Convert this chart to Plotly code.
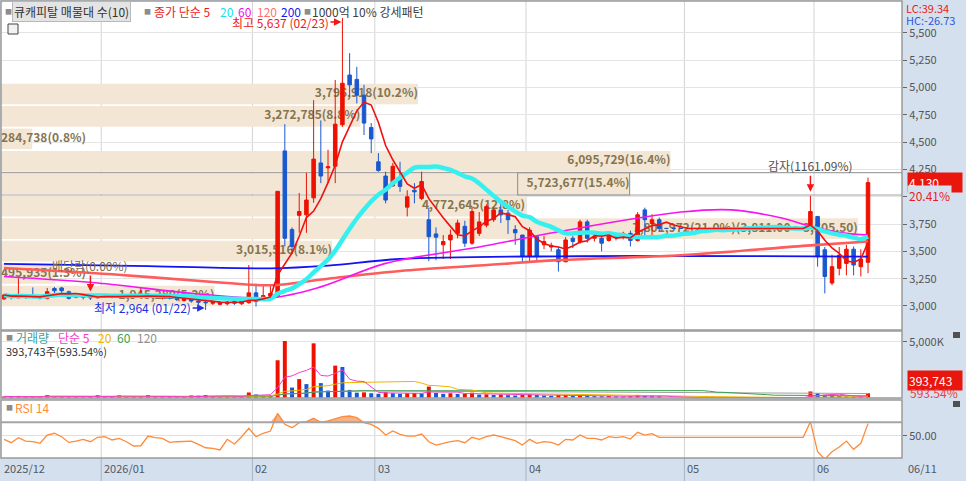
import pandas as pd
import plotly.graph_objects as go

# Trading calendar (KRX holidays removed).
FIRST_DAY = "2025-12-10"
LAST_DAY = "2026-06-11"
HOLIDAYS = ["2025-12-25", "2025-12-31", "2026-01-01", "2026-02-16", "2026-02-17",
            "2026-02-18", "2026-03-02", "2026-05-01", "2026-05-05", "2026-05-25",
            "2026-06-03"]

# Daily candles. 04/28 ~ 05/28 trading halt (flat, no volume).
OPEN = [
    3065, 3090, 3075, 3090, 3095, 3090, 3070, 3160, 3165, 3130, 3080, 3085, 3080, 3075,
    3085, 3095, 3080, 3090, 3080, 3085, 3090, 3095, 3075, 3085, 3070, 3050, 3060, 3045,
    3035, 3025, 3015, 3020, 3040, 3020, 3030,
    3120, 3080, 3090, 3090, 4420, 3700, 3830, 3835, 3990, 4310, 4265, 4280, 4660, 5115,
    5075, 4930, 4635,
    4320, 4190, 4100, 4170, 3905, 4060, 3985, 3790, 3660, 3560, 3605, 3665, 3730, 3575,
    3665, 3740, 3790, 3880, 3850, 3700, 3650,
    3455, 3635, 3560, 3540, 3515, 3405, 3620, 3590, 3770, 3620, 3620, 3600, 3650, 3630,
    3665, 3600, 3880, 3755, 3790,
    3710, 3710, 3710, 3710, 3710, 3710, 3710, 3710, 3710, 3710,
    3710, 3710, 3710, 3710, 3710, 3710, 3710, 3710, 3710, 3710,
    3725, 3820, 3515, 3210, 3345, 3390, 3520, 3360, 3400,
]
HIGH = [
    3110, 3110, 3255, 3110, 3170, 3100, 3165, 3175, 3175, 3140, 3110, 3100, 3095, 3110,
    3110, 3105, 3105, 3100, 3100, 3170, 3110, 3105, 3100, 3095, 3080, 3075, 3070, 3055,
    3050, 3050, 3045, 3045, 3050, 3055, 3375,
    3205, 3190, 3190, 4050, 4665, 3720, 4035, 4220, 4885, 4700, 4430, 5070, 5637, 5315,
    5190, 5025, 4675,
    4400, 4230, 4310, 4320, 4060, 4125, 4230, 3900, 3720, 3650, 3700, 3790, 3780, 3910,
    3860, 3930, 3900, 3940, 3880, 3740, 3650,
    3720, 3650, 3640, 3580, 3540, 3630, 3640, 3790, 3790, 3680, 3650, 3680, 3670, 3680,
    3690, 3860, 3900, 3840, 3810,
    3710, 3710, 3710, 3710, 3710, 3710, 3710, 3710, 3710, 3710,
    3710, 3710, 3710, 3710, 3710, 3710, 3710, 3710, 3710, 3710,
    4010, 3820, 3540, 3470, 3540, 3560, 3545, 3520, 4175,
]
LOW = [
    3055, 3060, 3070, 3065, 3070, 3060, 3060, 3115, 3110, 3060, 3070, 3060, 3055, 3070,
    3075, 3070, 3070, 3070, 3070, 3080, 3080, 3070, 3060, 3060, 3045, 3040, 3030, 3010,
    2964, 3010, 3005, 3005, 3010, 3010, 3020,
    2995, 3060, 3080, 3080, 3545, 3480, 3670, 3670, 3945, 4125, 4125, 4125, 4640, 4915,
    4855, 4565, 4400,
    4230, 3940, 4090, 4045, 3820, 3940, 3970, 3410, 3420, 3430, 3430, 3620, 3540, 3560,
    3640, 3720, 3770, 3760, 3660, 3560, 3405,
    3405, 3405, 3520, 3500, 3315, 3400, 3530, 3570, 3580, 3590, 3500, 3590, 3600, 3610,
    3545, 3590, 3640, 3650, 3680,
    3710, 3710, 3710, 3710, 3710, 3710, 3710, 3710, 3710, 3710,
    3710, 3710, 3710, 3710, 3710, 3710, 3710, 3710, 3710, 3710,
    3720, 3360, 3115, 3190, 3280, 3280, 3280, 3270, 3300,
]
CLOSE = [
    3100, 3080, 3095, 3085, 3080, 3075, 3130, 3140, 3140, 3070, 3090, 3080, 3075, 3095,
    3090, 3080, 3090, 3085, 3090, 3100, 3095, 3080, 3085, 3070, 3060, 3060, 3045, 3035,
    3030, 3035, 3030, 3035, 3025, 3045, 3120,
    3040, 3095, 3115, 4050, 3620, 3545, 3865, 3970, 4345, 4190, 4275, 4665, 5040, 5025,
    4930, 4675, 4530,
    4240, 3970, 4280, 4095, 4000, 4045, 4140, 3635, 3630, 3590, 3650, 3760, 3575, 3865,
    3770, 3910, 3880, 3835, 3790, 3670, 3455,
    3695, 3455, 3590, 3555, 3405, 3605, 3590, 3770, 3620, 3635, 3575, 3650, 3625, 3665,
    3600, 3835, 3790, 3790, 3710,
    3710, 3710, 3710, 3710, 3710, 3710, 3710, 3710, 3710, 3710,
    3710, 3710, 3710, 3710, 3710, 3710, 3710, 3710, 3710, 3710,
    3865, 3450, 3270, 3360, 3465, 3520, 3375, 3430, 4130,
]
VOLUME = [
    110000, 80000, 160000, 70000, 100000, 60000, 230000, 140000, 110000, 120000, 70000,
    50000, 80000, 220000,
    100000, 80000, 210000, 90000, 70000, 130000, 230000, 110000, 80000, 70000, 60000,
    90000, 200000, 180000, 240000, 130000, 100000, 120000, 90000, 140000, 470000,
    290000, 190000, 240000, 3360000, 5090000, 910000, 1670000, 1220000, 4880000, 1310000,
    640000, 2880000, 2760000, 700000, 450000, 480000, 400000,
    350000, 490000, 400000, 350000, 400000, 420000, 380000, 1000000, 420000, 350000,
    400000, 330000, 370000, 450000, 280000, 300000, 250000, 280000, 230000, 200000, 260000,
    300000, 250000, 190000, 170000, 240000, 250000, 170000, 220000, 190000, 140000,
    130000, 150000, 120000, 110000, 130000, 250000, 190000, 140000, 130000,
    0, 0, 0, 0, 0, 0, 0, 0, 0, 0,
    0, 0, 0, 0, 0, 0, 0, 0, 0, 0,
    560000, 420000, 250000, 200000, 150000, 120000, 90000, 56773, 393743,
]
RSI = [
    44.6, 39.6, 47.0, 42.0, 41.0, 38.7, 51.0, 53.6, 48.5, 40.0, 42.0, 44.6, 41.0, 47.6,
    48.5, 43.6, 46.0, 41.0, 34.6, 35.0, 49.5, 47.0, 46.0, 40.0, 41.0, 42.0, 42.0, 37.0,
    32.0, 31.0, 28.7, 44.6, 37.6, 48.5, 61.0,
    48.5, 53.6, 57.0, 83.4, 67.0, 62.0, 69.4, 71.0, 76.0, 70.0, 72.0, 75.0, 78.4, 79.4,
    77.0, 69.4, 67.0,
    61.0, 51.0, 57.0, 52.0, 49.5, 49.5, 52.5, 41.0, 36.0, 38.7, 41.0, 42.5, 39.6, 47.6,
    44.6, 48.5, 51.0, 48.5, 46.0, 42.5, 36.0,
    44.6, 38.7, 41.0, 40.0, 36.0, 44.6, 43.6, 51.0, 46.0, 46.0, 43.6, 48.5, 47.0, 48.5,
    45.0, 55.0, 51.0, 53.0, 47.6,
    47.6, 47.6, 47.6, 47.6, 47.6, 47.6, 47.6, 47.6, 47.6, 47.6,
    47.6, 47.6, 47.6, 47.6, 47.6, 47.6, 47.6, 47.6, 47.6, 47.6,
    70.9, 26.0, 15.0, 26.0, 33.0, 42.0, 29.6, 38.7, 68.0,
]

# Long moving averages (candle index -> value).
MA60_AT = [0, 13, 27, 37, 44, 53, 66, 77, 94, 101, 108, 112, 117, 120]
MA60 = [3270, 3210, 3110, 3075, 3175, 3390, 3540, 3680, 3860, 3880, 3805, 3730, 3665, 3650]
MA120_AT = [0, 15, 30, 37, 45, 55, 66, 77, 94, 112, 120]
MA120 = [3348, 3290, 3215, 3190, 3250, 3320, 3370, 3420, 3465, 3555, 3590]
MA200_AT = [0, 20, 37, 45, 55, 77, 120]
MA200 = [3385, 3365, 3345, 3370, 3430, 3455, 3452]

# Volume profile (매물대), 10 zones.
ZONE_EDGES = [2989.0, 3194.5, 3400.0, 3605.5, 3811.0, 4016.5, 4222.0, 4427.5, 4633.0, 4838.5, 5044.0]
ZONE_VOL = [1945280, 495935, 3015516, 7801972, 4772645, 5723677, 6095729, 284738, 3272785, 3796918]
ZONE_PCT = [5.2, 1.3, 8.1, 21.0, 12.8, 15.4, 16.4, 0.8, 8.8, 10.2]

EVENTS = [("2025-12-29", "배당락(0.00%)", "#7d6d4d"), ("2026-05-29", "감자(1161.09%)", "#505050")]
PRICE_TICKS = [3000, 3250, 3500, 3750, 4000, 4250, 4500, 4750, 5000, 5250, 5500]

FONT = "Noto Sans CJK KR, DejaVu Sans, sans-serif"
UP, DOWN = "#ee1100", "#1a58d0"
BEIGE = "#f3e6d4"


def px(x, y):
    # screen pixel -> paper coords (plot area x 1..902, y 1..458)
    return (x - 1) / 901, 1 - (y - 1) / 457


def note(x, y, text, color, size=12, **kw):
    xp, yp = px(x, y)
    d = dict(xref="paper", yref="paper", x=xp, y=yp, xanchor="left", yanchor="middle",
             showarrow=False, text=text, font=dict(family=FONT, size=size, color=color))
    d.update(kw)
    return d


dates = [d for d in pd.bdate_range(FIRST_DAY, LAST_DAY) if d.strftime("%Y-%m-%d") not in HOLIDAYS]
n = len(dates)
xs = list(range(n))
close = pd.Series(CLOSE)
ma5 = close.rolling(5, min_periods=1).mean()
ma20 = close.rolling(20, min_periods=1).mean()
vol = pd.Series(VOLUME)

fig = go.Figure()

# --- volume profile on the base layer (x4/y4) ---
x4max = max(ZONE_VOL) / 0.951
mids = [(a + b) / 2 for a, b in zip(ZONE_EDGES[:-1], ZONE_EDGES[1:])]
heights = [(b - a) * 0.92 for a, b in zip(ZONE_EDGES[:-1], ZONE_EDGES[1:])]
fig.add_trace(go.Bar(x=ZONE_VOL, y=mids, width=heights, orientation="h", base=0,
                     marker=dict(color=BEIGE, line=dict(width=0)),
                     xaxis="x4", yaxis="y4", hoverinfo="skip"))
lab_x, lab_t, lab_p = [], [], []
for lo, hi, v, p in zip(ZONE_EDGES[:-1], ZONE_EDGES[1:], ZONE_VOL, ZONE_PCT):
    t = f"{v:,}({p:.1f}%)"
    if v == max(ZONE_VOL):
        t += f"({hi:,.2f} ~ {lo:,.2f})"
    if v / max(ZONE_VOL) < 0.14:
        lab_x.append(0)
        lab_p.append("middle right")
    else:
        lab_x.append(v)
        lab_p.append("middle left")
    lab_t.append(t)
fig.add_trace(go.Scatter(x=lab_x, y=mids, text=lab_t, mode="text", textposition=lab_p,
                         textfont=dict(family=FONT, size=12, color="#857550", weight="bold"),
                         xaxis="x4", yaxis="y4", hoverinfo="skip"))
cur = [k for k in range(10) if ZONE_EDGES[k] <= CLOSE[-1] < ZONE_EDGES[k + 1]][0]
for edge in (ZONE_EDGES[cur], ZONE_EDGES[cur + 1]):
    fig.add_trace(go.Scatter(x=[0, x4max], y=[edge, edge], mode="lines",
                             line=dict(color="#a4a4a4", width=1.2),
                             xaxis="x4", yaxis="y4", hoverinfo="skip"))

# --- candles and price MAs (overlay x/y) ---
fig.add_trace(go.Candlestick(
    x=xs, open=OPEN, high=HIGH, low=LOW, close=CLOSE, whiskerwidth=0,
    increasing=dict(line=dict(color=UP, width=1), fillcolor=UP),
    decreasing=dict(line=dict(color=DOWN, width=1), fillcolor=DOWN),
    xaxis="x", yaxis="y", hoverinfo="skip"))
fig.add_trace(go.Scatter(x=MA200_AT, y=MA200, mode="lines", line=dict(color="#1414f0", width=1.8, shape="spline"), xaxis="x", yaxis="y"))
fig.add_trace(go.Scatter(x=MA120_AT, y=MA120, mode="lines", line=dict(color="#ff5c5c", width=2.6, shape="spline"), xaxis="x", yaxis="y"))
fig.add_trace(go.Scatter(x=MA60_AT, y=MA60, mode="lines", line=dict(color="#f814f0", width=1.6, shape="spline"), xaxis="x", yaxis="y"))
fig.add_trace(go.Scatter(x=xs, y=ma20, mode="lines", line=dict(color="#36f0f0", width=4.5, shape="spline"), xaxis="x", yaxis="y"))
fig.add_trace(go.Scatter(x=xs, y=ma5, mode="lines", line=dict(color="#f01010", width=1.6), xaxis="x", yaxis="y"))

# --- volume ---
vcolors = [UP if i == 0 or VOLUME[i] >= VOLUME[i - 1] else DOWN for i in xs]
fig.add_trace(go.Bar(x=xs, y=VOLUME, width=0.55, marker=dict(color=vcolors, line=dict(width=0)),
                     xaxis="x2", yaxis="y2", hoverinfo="skip"))
for w, c in ((120, "#a0a0a0"), (60, "#3aa050"), (20, "#f0b400"), (5, "#f040c8")):
    fig.add_trace(go.Scatter(x=xs, y=vol.rolling(w, min_periods=1).mean(), mode="lines",
                             line=dict(color=c, width=1), xaxis="x2", yaxis="y2"))

# --- RSI ---
fig.add_trace(go.Scatter(x=xs, y=[70] * n, mode="lines", line=dict(width=0), xaxis="x3", yaxis="y3"))
fig.add_trace(go.Scatter(x=xs, y=[max(r, 70) for r in RSI], mode="lines", line=dict(width=0),
                         fill="tonexty", fillcolor="#f6b184", xaxis="x3", yaxis="y3"))
fig.add_trace(go.Scatter(x=xs, y=RSI, mode="lines", line=dict(color="#ff8a3a", width=1.3),
                         xaxis="x3", yaxis="y3"))

X_RANGE = [-0.42, 124.72]
P_RANGE = [2780, 5793]
tickfont = dict(family=FONT, size=11, color="#555555")
fig.update_layout(
    width=966, height=481, margin=dict(l=1, r=64, t=1, b=23),
    paper_bgcolor="#d5e0ee", plot_bgcolor="white", showlegend=False,
    font=dict(family=FONT, size=11, color="#4a4a4a"),
    xaxis4=dict(domain=[0, 1], range=[0, x4max], visible=False, anchor="y4", fixedrange=True),
    yaxis4=dict(domain=[0.2801, 1], range=P_RANGE, anchor="x4", tickvals=PRICE_TICKS,
                showticklabels=False, showgrid=True, gridcolor="#e4e4e4", zeroline=False),
    xaxis=dict(overlaying="x4", range=X_RANGE, visible=False, anchor="y",
               rangeslider=dict(visible=False)),
    yaxis=dict(overlaying="y4", range=P_RANGE, anchor="x", side="right", tickvals=PRICE_TICKS,
               tickformat=",", ticks="outside", ticklen=4, tickcolor="#666",
               showgrid=False, zeroline=False, tickfont=tickfont),
    xaxis2=dict(domain=[0, 1], range=X_RANGE, visible=False, anchor="y2"),
    yaxis2=dict(domain=[0.1313, 0.2779], range=[-27000, 5987000], anchor="x2", side="right",
                tickvals=[5000000], ticktext=["5,000K"], ticks="outside", ticklen=4,
                tickcolor="#666", gridcolor="#e4e4e4", zeroline=False, tickfont=tickfont),
    xaxis3=dict(domain=[0, 1], range=X_RANGE, visible=False, anchor="y3"),
    yaxis3=dict(domain=[0, 0.1269], range=[16.7, 103.3], anchor="x3", side="right",
                tickvals=[50], ticktext=["50.00"], ticks="outside", ticklen=4,
                tickcolor="#666", gridcolor="#e0e0e0", zeroline=False, tickfont=tickfont),
)

shapes = []
ann = []
# month separators and labels
for i, d in enumerate(dates):
    if i > 0 and d.month == dates[i - 1].month:
        continue
    if i == 0:
        label = d.strftime("%Y/%m")
        ann.append(note(2, 468, label, "#4f5a66", 11))
        continue
    label = d.strftime("%Y/%m") if d.year != dates[i - 1].year else d.strftime("%m")
    shapes.append(dict(type="line", xref="x", yref="paper", x0=i - 0.5, x1=i - 0.5,
                       y0=0, y1=1, line=dict(color="#d4d4d4", width=1), layer="below"))
    shapes.append(dict(type="line", xref="x", yref="paper", x0=i - 0.5, x1=i - 0.5,
                       y0=-0.052, y1=0, line=dict(color="#aab4c2", width=1), layer="below"))
    ann.append(dict(xref="x", yref="paper", x=i - 0.5, y=px(0, 468)[1], xanchor="left",
                    yanchor="middle", xshift=1, showarrow=False, text=label,
                    font=dict(family=FONT, size=11, color="#4f5a66")))

# panel frames, RSI 70 line
for y0, y1 in ((0.2801, 1), (0.1313, 0.2779), (0, 0.1269)):
    shapes.append(dict(type="rect", xref="paper", yref="paper", x0=0, x1=1, y0=y0, y1=y1,
                       line=dict(color="#9a9a9a", width=1.5), layer="above"))
shapes.append(dict(type="line", xref="paper", yref="y3", x0=0, x1=1, y0=70, y1=70,
                   line=dict(color="#a4a4a4", width=2)))
# current zone label box
v = ZONE_VOL[cur]
shapes.append(dict(type="rect", xref="x4", yref="y4", x0=v - 112 * x4max / 901, x1=v,
                   y0=ZONE_EDGES[cur], y1=ZONE_EDGES[cur + 1],
                   line=dict(color="#9a9a9a", width=1.2), layer="above"))
# small icons
x0p, y0p = px(8, 24)
x1p, y1p = px(18, 34)
shapes.append(dict(type="rect", xref="paper", yref="paper", x0=x0p, x1=x1p, y0=y1p, y1=y0p,
                   fillcolor="#f2f2f2", line=dict(color="#444", width=1)))
for yy in (335, 404):
    a0, b0 = px(953, yy - 3)
    a1, b1 = px(960, yy + 3)
    shapes.append(dict(type="rect", xref="paper", yref="paper", x0=a0, x1=a1, y0=b1, y1=b0,
                       fillcolor="#505050", line=dict(width=0)))

# legends (placed piece by piece as in the terminal)
sq = "■"
for x in (3, 142, 302):
    ann.append(note(x, 11, sq, "#8c8c8c", 7))
ann.append(note(12, 11, "큐캐피탈 매물대 수(10)", "#333333", 12, bgcolor="#e4e4e4",
                bordercolor="#b8b8b8", borderwidth=1, borderpad=1))
for x, text, color in ((152, "종가 단순 5", "#f01818"), (218, "20", "#10e4f0"),
                       (236, "60", "#f010f0"), (255, "120", "#ff7070"),
                       (279, "200", "#1818f0"), (310, "1000억 10% 강세패턴", "#404040")):
    ann.append(note(x, 11, text, color, 12))
ann.append(note(4, 337, sq, "#8c8c8c", 7))
for x, text, color in ((14, "거래량", "#3aa0a0"), (56, "단순 5", "#f040c8"),
                       (96, "20", "#f0b400"), (115, "60", "#3aa050"), (135, "120", "#909090")):
    ann.append(note(x, 337, text, color, 12))
vchg = (VOLUME[-1] / VOLUME[-2] - 1) * 100
ann.append(note(4, 351, f"{VOLUME[-1]:,}주({vchg:.2f}%)", "#333333", 11))
ann.append(note(4, 407, sq, "#8c8c8c", 7))
ann.append(note(13, 407, "RSI 14", "#ff8a3a", 12))

# right axis info
lc = (CLOSE[-1] / min(LOW) - 1) * 100
hc = (CLOSE[-1] / max(HIGH) - 1) * 100
chg = (CLOSE[-1] / CLOSE[-2] - 1) * 100
ann.append(note(904, 8, f"LC:{lc:.2f}", "#e82020", 11))
ann.append(note(904, 20, f"HC:{hc:.2f}", "#2a5ae0", 11))
ann.append(dict(xref="paper", yref="y", x=px(907, 0)[0], y=CLOSE[-1], xanchor="left",
                yanchor="middle", showarrow=False, text=f"{CLOSE[-1]:,}", bgcolor="#e8160c",
                width=52, align="left", font=dict(family=FONT, size=12, color="white")))
ann.append(dict(xref="paper", yref="y", x=px(907, 0)[0], y=CLOSE[-1], yshift=-13,
                xanchor="left", yanchor="middle", showarrow=False, text=f"{chg:.2f}%",
                bgcolor="#d5e0ee", font=dict(family=FONT, size=12, color="#e82020")))
ann.append(note(907, 380, f"{VOLUME[-1]:,}", "white", 12, bgcolor="#e8160c", width=52, align="left"))
ann.append(note(908, 392, f"{vchg:.2f}%", "#e84040", 12))
ann.append(note(906, 468, dates[-1].strftime("%m/%d"), "#4f5a66", 11))

# high / low markers
ih = HIGH.index(max(HIGH))
il = LOW.index(min(LOW))
ann.append(dict(xref="x", yref="y", x=ih, y=max(HIGH), yshift=-4, ax=-62, ay=0,
                text=f"최고 {max(HIGH):,} ({dates[ih]:%m/%d})", showarrow=True,
                arrowhead=2, arrowsize=1, arrowwidth=1.5, arrowcolor="#f01818", standoff=1,
                font=dict(family=FONT, size=12, color="#f01818")))
ann.append(dict(xref="x", yref="y", x=il, y=min(LOW), yshift=2, ax=-63, ay=0,
                text=f"최저 {min(LOW):,} ({dates[il]:%m/%d})", showarrow=True,
                arrowhead=2, arrowsize=1, arrowwidth=1.5, arrowcolor="#2030e0", standoff=1,
                font=dict(family=FONT, size=12, color="#2030e0")))
# corporate events
for day, text, color in EVENTS:
    i = [k for k, d in enumerate(dates) if d.strftime("%Y-%m-%d") == day][0]
    ann.append(dict(xref="x", yref="y", x=i, y=HIGH[i], ax=0, ay=-30, text=text,
                    showarrow=True, arrowhead=2, arrowsize=1, arrowwidth=1.5,
                    arrowcolor="#f01818", standoff=4,
                    font=dict(family=FONT, size=12, color=color)))

fig.update_layout(shapes=shapes, annotations=ann)
# the page's default body margin would push the chart 8px off the window
fig.write_html("out.html", config={"staticPlot": True},
               post_script="document.body.style.margin='0';")
